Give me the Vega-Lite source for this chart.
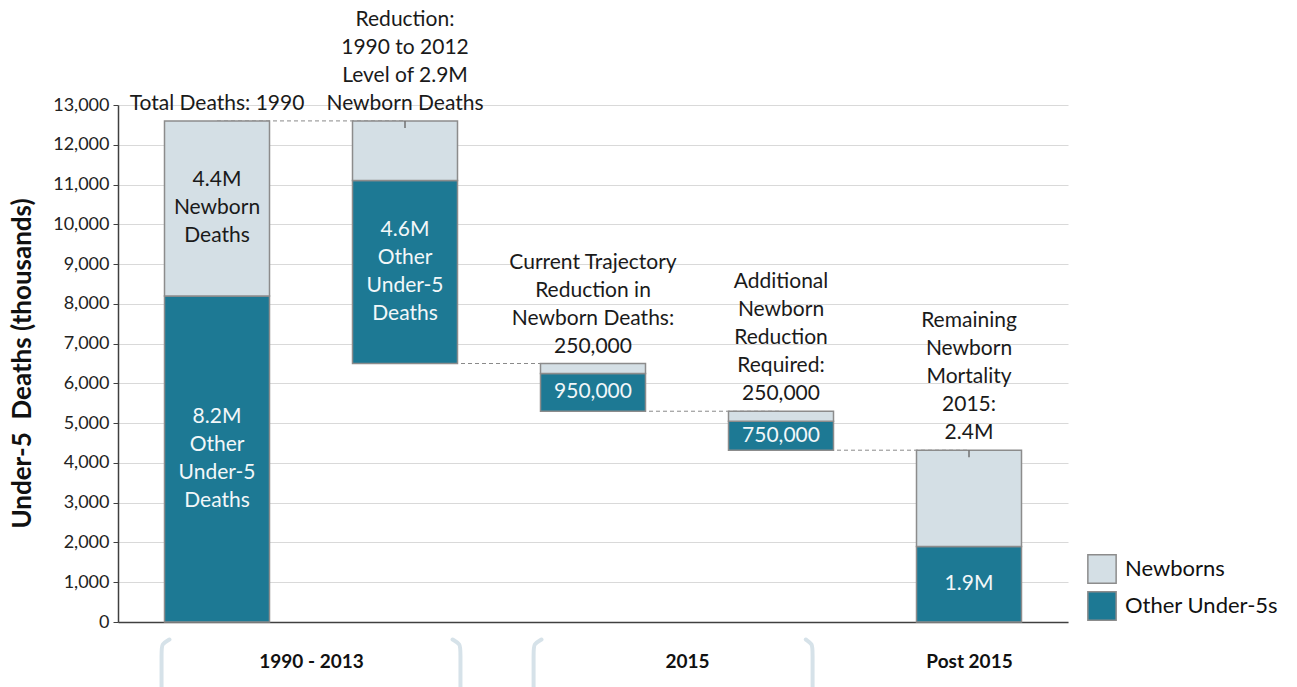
{
  "$schema": "https://vega.github.io/schema/vega-lite/v6.json",
  "width": 950,
  "height": 517,
  "autosize": {"type": "none"},
  "padding": {"left": 118, "top": 105, "right": 229, "bottom": 65},
  "background": "white",
  "config": {
    "font": "Lato",
    "view": {"stroke": null},
    "text": {"font": "Lato"}
  },
  "datasets": {
    "bars": [
      {"step": 1, "series": "Other Under-5s", "y0": 0, "y1": 8200},
      {"step": 1, "series": "Newborns", "y0": 8200, "y1": 12600},
      {"step": 2, "series": "Other Under-5s", "y0": 6500, "y1": 11100},
      {"step": 2, "series": "Newborns", "y0": 11100, "y1": 12600},
      {"step": 3, "series": "Other Under-5s", "y0": 5300, "y1": 6250},
      {"step": 3, "series": "Newborns", "y0": 6250, "y1": 6500},
      {"step": 4, "series": "Other Under-5s", "y0": 4320, "y1": 5050},
      {"step": 4, "series": "Newborns", "y0": 5050, "y1": 5300},
      {"step": 5, "series": "Other Under-5s", "y0": 0, "y1": 1900},
      {"step": 5, "series": "Newborns", "y0": 1900, "y1": 4320}
    ],
    "inside": [
      {"step": 1, "series": "Newborns", "mid": 10400, "label": ["4.4M", "Newborn", "Deaths"]},
      {"step": 1, "series": "Other Under-5s", "mid": 4100, "label": ["8.2M", "Other", "Under-5", "Deaths"]},
      {"step": 2, "series": "Other Under-5s", "mid": 8800, "label": ["4.6M", "Other", "Under-5", "Deaths"]},
      {"step": 3, "series": "Other Under-5s", "mid": 5775, "label": ["950,000"]},
      {"step": 4, "series": "Other Under-5s", "mid": 4685, "label": ["750,000"]},
      {"step": 5, "series": "Other Under-5s", "mid": 950, "label": ["1.9M"]}
    ],
    "notes": [
      {"step": 1, "top": 12600, "label": ["Total Deaths: 1990"]},
      {"step": 2, "top": 12600, "label": ["Reduction:", "1990 to 2012", "Level of 2.9M", "Newborn Deaths"]},
      {"step": 3, "top": 6500, "label": ["Current Trajectory", "Reduction in", "Newborn Deaths:", "250,000"]},
      {"step": 4, "top": 5300, "label": ["Additional", "Newborn", "Reduction", "Required:", "250,000"]},
      {"step": 5, "top": 4320, "label": ["Remaining", "Newborn", "Mortality", "2015:", "2.4M"]}
    ],
    "connectors": [
      {"from": 1, "to": 2, "level": 12600},
      {"from": 2, "to": 3, "level": 6500},
      {"from": 3, "to": 4, "level": 5300},
      {"from": 4, "to": 5, "level": 4320}
    ],
    "ticks": [
      {"step": 2, "top": 12600, "low": 12420},
      {"step": 5, "top": 4320, "low": 4140}
    ],
    "brackets": [
      {"id": "a", "k": 1, "bx": 0.747, "by": -440},
      {"id": "a", "k": 2, "bx": 0.705, "by": -560},
      {"id": "a", "k": 3, "bx": 0.705, "by": -700},
      {"id": "a", "k": 4, "bx": 0.705, "by": -1800},
      {"id": "b", "k": 1, "bx": 2.253, "by": -440},
      {"id": "b", "k": 2, "bx": 2.295, "by": -560},
      {"id": "b", "k": 3, "bx": 2.295, "by": -700},
      {"id": "b", "k": 4, "bx": 2.295, "by": -1800},
      {"id": "c", "k": 1, "bx": 2.726, "by": -440},
      {"id": "c", "k": 2, "bx": 2.684, "by": -560},
      {"id": "c", "k": 3, "bx": 2.684, "by": -700},
      {"id": "c", "k": 4, "bx": 2.684, "by": -1800},
      {"id": "d", "k": 1, "bx": 4.132, "by": -440},
      {"id": "d", "k": 2, "bx": 4.168, "by": -560},
      {"id": "d", "k": 3, "bx": 4.168, "by": -700},
      {"id": "d", "k": 4, "bx": 4.168, "by": -1800}
    ]
  },
  "layer": [
    {
      "data": {"name": "connectors"},
      "mark": {"type": "rule", "color": "#8a8a8a", "strokeDash": [4, 3], "strokeWidth": 1},
      "encoding": {
        "x": {"field": "from", "type": "quantitative",
          "scale": {"domain": [0.5, 5.5], "nice": false, "zero": false},
          "axis": {
            "title": null, "values": [1.5, 3.5, 5],
            "labelExpr": "datum.value == 1.5 ? '1990 - 2013' : datum.value == 3.5 ? '2015' : 'Post 2015'",
            "grid": false, "ticks": false, "tickSize": 0,
            "domainColor": "#404040", "domainWidth": 1.5,
            "labelFontSize": 19, "labelFontWeight": "bold", "labelColor": "#111111",
            "labelPadding": 39, "labelBaseline": "middle", "labelFlush": false, "labelOverlap": false
          }},
        "x2": {"field": "to"},
        "y": {"field": "level", "type": "quantitative",
          "scale": {"domain": [0, 13000], "nice": false},
          "axis": {
            "title": "Under-5\u00a0 Deaths (thousands)",
            "values": [0, 1000, 2000, 3000, 4000, 5000, 6000, 7000, 8000, 9000, 10000, 11000, 12000, 13000],
            "tickCount": 30,
            "format": ",.0f", "labelOverlap": false,
            "grid": true, "gridColor": "#d9d9d9", "gridWidth": 1,
            "domainColor": "#404040", "domainWidth": 1.5,
            "tickColor": "#404040", "tickSize": 5,
            "labelFontSize": 18, "labelColor": "#222222", "labelPadding": 4,
            "titleFontSize": 26, "titleFontWeight": "bold", "titleColor": "#111111",
            "titleX": -96, "titleY": 258, "titleAlign": "center", "titleBaseline": "middle", "titleAngle": 270
          }}
      }
    },
    {
      "data": {"name": "bars"},
      "mark": {"type": "bar", "size": 105, "stroke": "#8c8c8c", "strokeWidth": 1.5},
      "encoding": {
        "x": {"field": "step", "type": "quantitative"},
        "y": {"field": "y0", "type": "quantitative"},
        "y2": {"field": "y1"},
        "color": {"field": "series", "type": "nominal",
          "scale": {"domain": ["Newborns", "Other Under-5s"], "range": ["#d4dfe5", "#1d7994"]},
          "legend": {
            "title": null, "orient": "none", "legendX": 969, "legendY": 449,
            "padding": 0, "symbolType": "square", "symbolSize": 800,
            "symbolStrokeColor": "#8c8c8c", "symbolStrokeWidth": 1.5,
            "labelFontSize": 22, "labelColor": "#111111", "labelOffset": 8,
            "rowPadding": 1
          }}
      }
    },
    {
      "data": {"name": "ticks"},
      "mark": {"type": "rule", "color": "#707070", "strokeWidth": 1.5},
      "encoding": {
        "x": {"field": "step", "type": "quantitative"},
        "y": {"field": "top", "type": "quantitative"},
        "y2": {"field": "low"}
      }
    },
    {
      "data": {"name": "brackets"},
      "mark": {"type": "line", "color": "#d6e2e9", "strokeWidth": 4, "strokeCap": "round", "interpolate": "basis", "clip": false},
      "encoding": {
        "x": {"field": "bx", "type": "quantitative"},
        "y": {"field": "by", "type": "quantitative"},
        "detail": {"field": "id"},
        "order": {"field": "k"}
      }
    },
    {
      "data": {"name": "notes"},
      "transform": [{"filter": "length(datum.label) == 1"}],
      "mark": {"type": "text", "fontSize": 21, "lineHeight": 28, "baseline": "bottom", "align": "center", "dy": -7, "color": "#1a1a1a"},
      "encoding": {
        "x": {"field": "step", "type": "quantitative"},
        "y": {"field": "top", "type": "quantitative"},
        "text": {"field": "label"}
      }
    },
    {
      "data": {"name": "notes"},
      "transform": [{"filter": "length(datum.label) == 4"}],
      "mark": {"type": "text", "fontSize": 21, "lineHeight": 28, "baseline": "bottom", "align": "center", "dy": -91, "color": "#1a1a1a"},
      "encoding": {
        "x": {"field": "step", "type": "quantitative"},
        "y": {"field": "top", "type": "quantitative"},
        "text": {"field": "label"}
      }
    },
    {
      "data": {"name": "notes"},
      "transform": [{"filter": "length(datum.label) == 5"}],
      "mark": {"type": "text", "fontSize": 21, "lineHeight": 28, "baseline": "bottom", "align": "center", "dy": -119, "color": "#1a1a1a"},
      "encoding": {
        "x": {"field": "step", "type": "quantitative"},
        "y": {"field": "top", "type": "quantitative"},
        "text": {"field": "label"}
      }
    },
    {
      "data": {"name": "inside"},
      "transform": [{"filter": "datum.series == 'Newborns'"}],
      "mark": {"type": "text", "fontSize": 21, "lineHeight": 28, "baseline": "middle", "align": "center", "dy": -28, "color": "#1a1a1a"},
      "encoding": {
        "x": {"field": "step", "type": "quantitative"},
        "y": {"field": "mid", "type": "quantitative"},
        "text": {"field": "label"}
      }
    },
    {
      "data": {"name": "inside"},
      "transform": [{"filter": "datum.series == 'Other Under-5s' && length(datum.label) == 4"}],
      "mark": {"type": "text", "fontSize": 21, "lineHeight": 28, "baseline": "middle", "align": "center", "dy": -42, "color": "#f2f7f9"},
      "encoding": {
        "x": {"field": "step", "type": "quantitative"},
        "y": {"field": "mid", "type": "quantitative"},
        "text": {"field": "label"}
      }
    },
    {
      "data": {"name": "inside"},
      "transform": [{"filter": "datum.series == 'Other Under-5s' && length(datum.label) == 1"}],
      "mark": {"type": "text", "fontSize": 21, "lineHeight": 28, "baseline": "middle", "align": "center", "color": "#f2f7f9"},
      "encoding": {
        "x": {"field": "step", "type": "quantitative"},
        "y": {"field": "mid", "type": "quantitative"},
        "text": {"field": "label"}
      }
    }
  ]
}
